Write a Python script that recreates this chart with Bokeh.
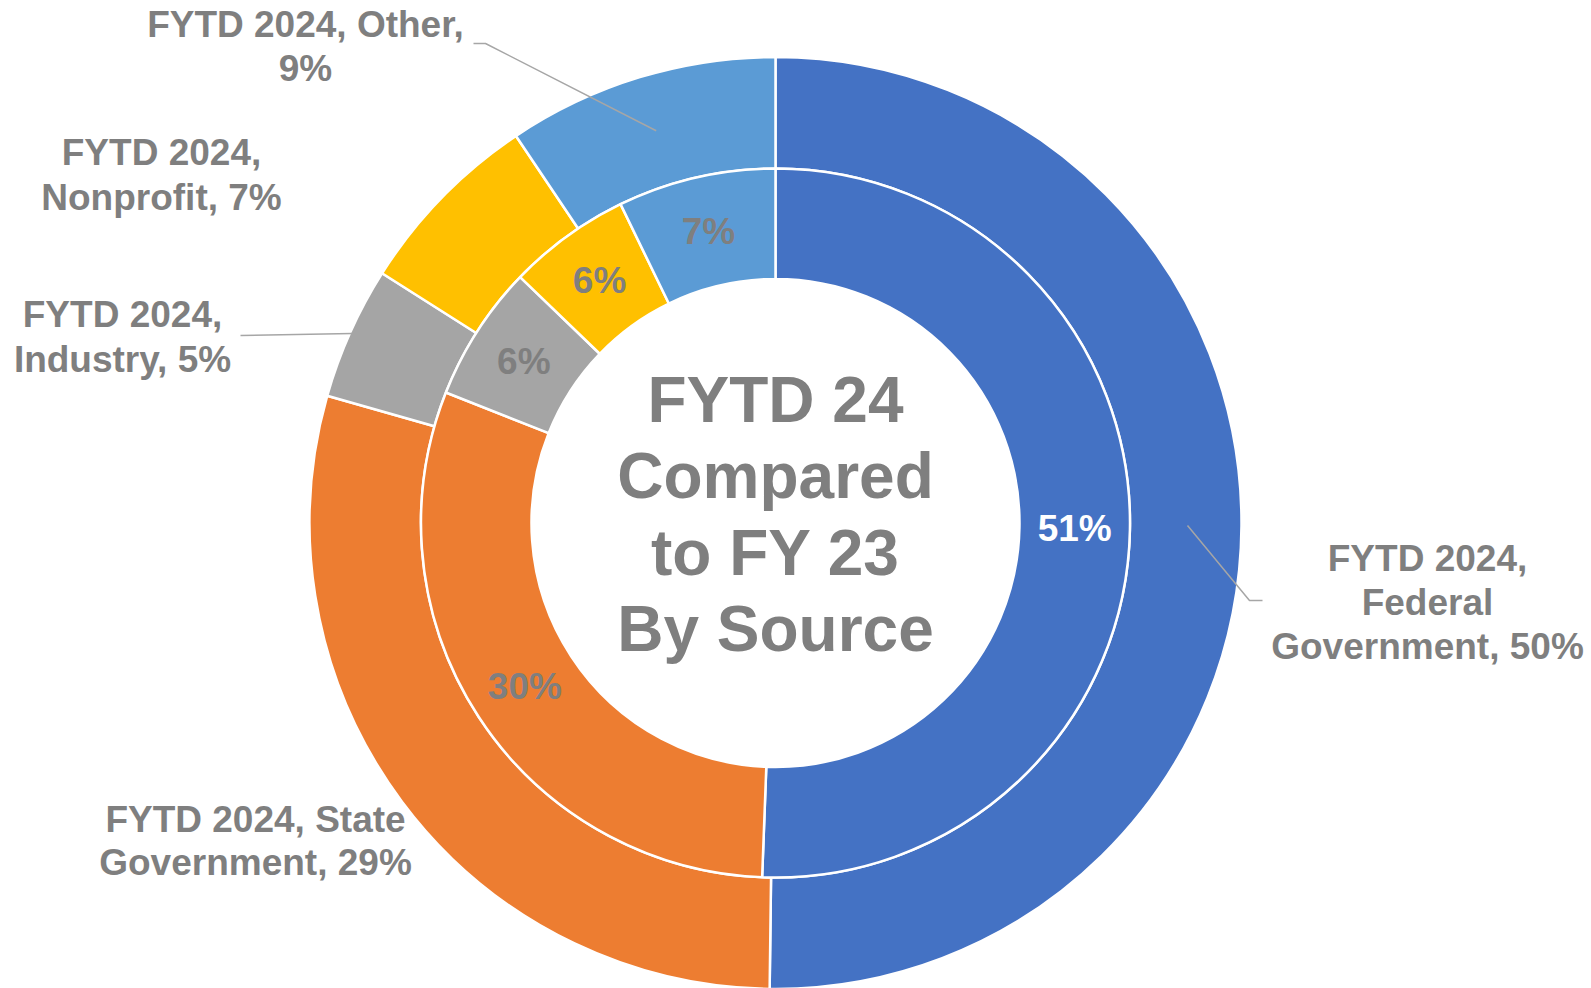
import numpy as np
from bokeh.plotting import figure
from bokeh.models import Range1d, ColumnDataSource
from bokeh.embed import file_html
from bokeh.resources import INLINE
from bokeh.core.properties import value

# ---------------- data ----------------
categories = ["Federal Government", "State Government", "Industry", "Nonprofit", "Other"]
fy23 = [50.6, 30.4, 6.2, 5.6, 7.2]        # inner ring (percent, shown rounded)
fytd24 = [50.2, 29.2, 4.6, 6.6, 9.4]      # outer ring (percent, shown rounded)
colors = ["#4472C4", "#ED7D31", "#A5A5A5", "#FFC000", "#5B9BD5"]
outer_label_templates = [
    "FYTD 2024,\nFederal\nGovernment, {}%",
    "FYTD 2024, State\nGovernment, {}%",
    "FYTD 2024,\nIndustry, {}%",
    "FYTD 2024,\nNonprofit, {}%",
    "FYTD 2024, Other,\n{}%",
]
center_title = ["FYTD 24", "Compared", "to FY 23", "By Source"]

# ---------------- layout ----------------
W, H = 1591, 988
CX, CY = 775, -522.5
R_IN, R_MID, R_OUT = 244, 354.5, 466
GREY = "#7F7F7F"
FONT = value("Liberation Sans")
# first-line cap-middle (screen px) and line spacing for the outer labels
outer_label_pos = [(1427, 558, 44), (255, 818.5, 43), (122, 313.5, 45), (161, 151.5, 45), (305, 23.7, 44)]
# leader lines: (slice index, radius of wedge-side end, label-side points in screen px)
leaders = [
    (0, 412, [(1249, 600), (1262, 600)]),
    (2, 464, [(240, 335)]),
    (4, 410, [(485, 43), (473, 43)]),
]

p = figure(width=W, height=H, x_range=Range1d(0, W), y_range=Range1d(-H, 0),
           output_backend="svg", toolbar_location=None, min_border=0,
           x_axis_location=None, y_axis_location=None)
p.grid.visible = False
p.outline_line_color = None
p.background_fill_color = "white"
p.border_fill_color = "white"


def ring(vals):
    v = np.array(vals, dtype=float)
    cum = np.cumsum(v) / v.sum()
    prev = np.concatenate([[0.0], cum[:-1]])
    start = np.pi / 2 - 2 * np.pi * prev
    end = np.pi / 2 - 2 * np.pi * cum
    mid = (start + end) / 2
    return start, end, mid


def pct(v):
    return f"{int(np.floor(v + 0.5))}"


s_in, e_in, m_in = ring(fy23)
s_out, e_out, m_out = ring(fytd24)

src_in = ColumnDataSource(dict(start=s_in, end=e_in, color=colors, cat=categories))
src_out = ColumnDataSource(dict(start=s_out, end=e_out, color=colors, cat=categories))

p.annular_wedge(x=CX, y=CY, inner_radius=R_MID, outer_radius=R_OUT, start_angle="start", end_angle="end",
                direction="clock", fill_color="color", line_color="white", line_width=2.5, source=src_out)
p.annular_wedge(x=CX, y=CY, inner_radius=R_IN, outer_radius=R_MID, start_angle="start", end_angle="end",
                direction="clock", fill_color="color", line_color="white", line_width=2.5, source=src_in)

fs_small = 37
fs_big = 64
# inner labels at the middle of each inner segment (given y lands at the cap middle)
r_lab = (R_IN + R_MID) / 2
ix = CX + r_lab * np.cos(m_in)
iy = CY + r_lab * np.sin(m_in)
inner_colors = ["white"] + [GREY] * (len(fy23) - 1)
p.text(x=ix, y=iy, text=[pct(v) + "%" for v in fy23], text_color=inner_colors, text_font=FONT,
       text_font_style="bold", text_font_size=f"{fs_small}px", text_align="center", text_baseline="alphabetic")

# outer labels
lx, ly, lt = [], [], []
for tmpl, v, (x0, y0, sp) in zip(outer_label_templates, fytd24, outer_label_pos):
    for i, line in enumerate(tmpl.format(pct(v)).split("\n")):
        lx.append(x0)
        ly.append(-(y0 + i * sp))
        lt.append(line)
p.text(x=lx, y=ly, text=lt, text_color=GREY, text_font=FONT, text_font_style="bold",
       text_font_size=f"{fs_small}px", text_align="center", text_baseline="alphabetic")

# leader lines
xs, ys = [], []
for idx, r, pts in leaders:
    wx = CX + r * np.cos(m_out[idx])
    wy = CY + r * np.sin(m_out[idx])
    xs.append([wx] + [pt[0] for pt in pts])
    ys.append([wy] + [-pt[1] for pt in pts])
p.multi_line(xs=xs, ys=ys, line_color="#A6A6A6", line_width=1.5)

# center title
cy_lines = [399, 475.5, 552, 628.5]
p.text(x=[CX] * 4, y=[-y for y in cy_lines], text=center_title, text_color=GREY,
       text_font=FONT, text_font_style="bold", text_font_size=f"{fs_big}px", text_align="center",
       text_baseline="alphabetic")

open("out.html", "w").write(file_html(p, INLINE))
